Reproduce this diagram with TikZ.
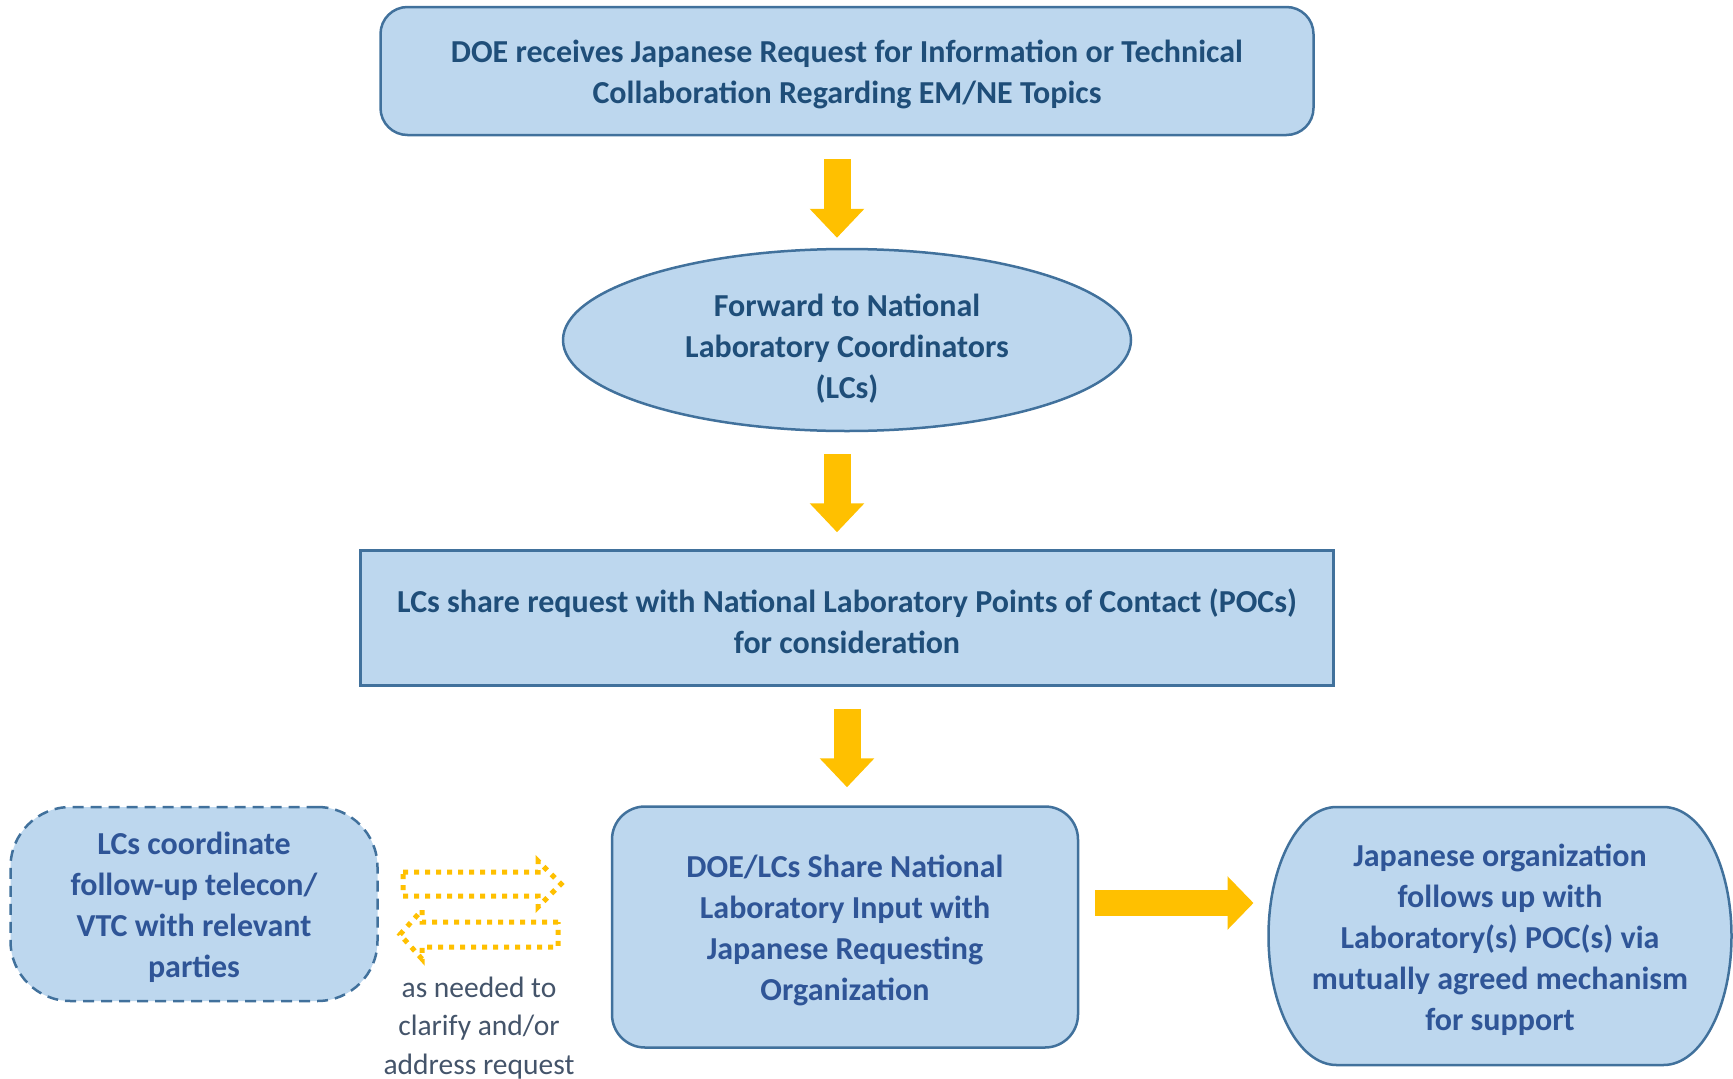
\documentclass[tikz,border=0pt]{standalone}
\usepackage{fontspec}
\setmainfont{Carlito}
\usetikzlibrary{shapes.geometric,arrows.meta,backgrounds}

\definecolor{boxfill}{HTML}{BDD7EE}
\definecolor{boxline}{HTML}{41719C}
\definecolor{darktext}{HTML}{1F4E79}
\definecolor{bluetext}{HTML}{2F5597}
\definecolor{amber}{HTML}{FFC000}
\definecolor{greytext}{HTML}{44546A}

% invisible rule, pushes the first line down a little
\newcommand{\topstrut}[1]{\rule{0pt}{#1}}

\tikzset{
	stepbox/.style={fill=boxfill, draw=boxline, line width=2.5pt, align=center, inner sep=0pt, font=\fontsize{32}{41}\selectfont\bfseries},
	blockarrow/.style={draw=amber, fill=amber, line width=27pt, -{Triangle[length=29pt,width=53pt]}},
	dottedarrow/.style={draw=amber, line width=5pt, dash pattern=on 5pt off 6pt}
}

\begin{document}
\begin{tikzpicture}[x=1pt, y=-1pt]
			%%%%% START %%%%%
			\useasboundingbox (0,0) rectangle (1733,1079);
			
			\node[stepbox, rounded corners=27pt, minimum width=933pt, minimum height=128pt, text=darktext] (doe) at (847,71) {\topstrut{30pt}DOE receives Japanese Request for Information or Technical\\Collaboration Regarding EM/NE Topics};
			\node[stepbox, ellipse, minimum width=568pt, minimum height=182pt, text=darktext] (fwd) at (847,340) {\topstrut{40pt}Forward to National\\Laboratory Coordinators\\(LCs)};
			\node[stepbox, minimum width=973pt, minimum height=135pt, text=darktext] (share) at (847,618) {\topstrut{30pt}LCs share request with National Laboratory Points of Contact (POCs)\\for consideration};
			
			\node[stepbox, rounded corners=33pt, minimum width=466pt, minimum height=241pt, text=bluetext] (input) at (845,927) {\topstrut{30pt}DOE/LCs Share National\\Laboratory Input with\\Japanese Requesting\\Organization};
			\node[stepbox, rounded corners=60pt, dash pattern=on 11pt off 7pt, minimum width=367pt, minimum height=194pt, text=bluetext] (telecon) at (194,904) {\topstrut{30pt}LCs coordinate\\follow-up telecon/\\VTC with relevant\\parties};
			
			% terminal shape with elliptic ends
			\node[stepbox, draw=none, fill=none, outer sep=0pt, minimum width=463pt, minimum height=258pt, text=bluetext] (follow) at (1500,936) {\topstrut{30pt}Japanese organization\\follows up with\\Laboratory(s) POC(s) via\\mutually agreed mechanism\\for support};
			\begin{scope}[on background layer]
				\draw[fill=boxfill, draw=boxline, line width=2.5pt, line join=round] ([xshift=68pt]follow.north west) -- ([xshift=-68pt]follow.north east) arc[start angle=90, end angle=-90, x radius=68pt, y radius=129pt] -- ([xshift=68pt]follow.south west) arc[start angle=270, end angle=90, x radius=68pt, y radius=129pt] -- cycle;
			\end{scope}
			
			\draw[blockarrow, shorten <=23pt, shorten >=10pt] ([xshift=-10pt]doe.south) -- ([xshift=-10pt]fwd.north);
			\draw[blockarrow, shorten <=22pt, shorten >=17pt] ([xshift=-10pt]fwd.south) -- ([xshift=-10pt]share.north);
			\draw[blockarrow, shorten <=22pt, shorten >=18pt] (share.south) -- (share.south |- input.north);
			\draw[blockarrow, line width=26pt, -{Triangle[length=26pt,width=52pt]}, shorten <=16pt, shorten >=15pt] ([yshift=24pt]input.east) -- ([yshift=33pt]follow.west);
			
			% back and forth
			\draw[dottedarrow] (403,872) -- (538,872) -- (538,861) -- (561,884) -- (538,907) -- (538,896) -- (403,896) -- cycle;
			\draw[dottedarrow] (558,922) -- (422,922) -- (422,910) -- (400,934.5) -- (422,959) -- (422,947) -- (558,947) -- cycle;
			\node[font=\fontsize{29.5}{38.5}\selectfont, text=greytext, align=center, inner sep=0pt] (note) at (479,1028) {as needed to\\clarify and/or\\address request};
			
			%%%%% END %%%%%
\end{tikzpicture}
\end{document}
